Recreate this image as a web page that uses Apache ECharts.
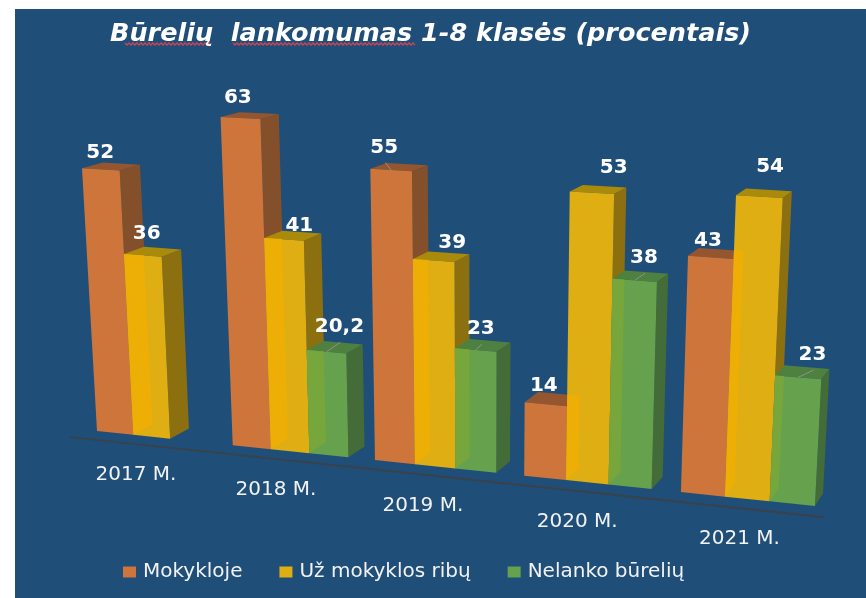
<!DOCTYPE html>
<html>
<head>
<meta charset="utf-8">
<style>
html,body{margin:0;padding:0;background:#fff;}
#container{width:866px;height:598px;}
</style>
</head>
<body>
<div id="container"></div>
<script src="https://cdn.jsdelivr.net/npm/echarts@6/dist/echarts.min.js"></script>
<script>
var categories = ['2017 M.', '2018 M.', '2019 M.', '2020 M.', '2021 M.'];
var mokykloje = [52, 63, 55, 14, 43];
var uzMokyklos = [36, 41, 39, 53, 54];
var nelanko = [null, 20.2, 23, 38, 23];

var seriesNames = ['Mokykloje', 'Už mokyklos ribų', 'Nelanko būrelių'];
var seriesValues = [mokykloje, uzMokyklos, nelanko];

// face colours per series
var faces = [
  {front: '#CE753C', side: '#84502B', top: '#95562F', strip: null},
  {front: '#DEAE12', side: '#8C7010', top: '#A98A0B', strip: '#EDAE05'},
  {front: '#66A14D', side: '#436C39', top: '#4E8040', strip: '#76A63C'}
];
// hand placed data labels, px from the middle of the bar top: [dx, dy, leader line]
var labelShift = [
  [[-11, -13.5], [-12, -17], [-15, -19, 1], [-8.5, -13], [-8, -12]],
  [[-6, -17], [6.5, -9], [11, -13.5], [15.5, -21.5], [6, -25.5]],
  [null, [4.5, -19.5, 1], [-2, -15.5, 1], [3.5, -17.5, 1], [10, -16.5, 1]]
];

var Y_MAX = 70;
var BAR_BAND = 0.2723;   // bar width as part of a category band
var BAND_START = -0.0915;

// the picture is a tilted 3D view, so plot pixels go through a projection
var view = {a: 130.4, b: 97, c: -0.02288, d: -0.000722, e: -0.3477, f: 4, g: 431, h: -5.175, k: 0.0178, m: 21.9, n: -2.5};

function project(rect, px, py, z) {
  var t = (px - rect.x) / rect.width * categories.length + BAND_START;
  var v = (rect.y + rect.height - py) / rect.height * Y_MAX;
  var w = 1 + view.c * t + view.d * v + view.k * z;
  return [
    (view.a * t + view.b + view.e * v + view.m * z) / w,
    (view.f * t + view.g + view.h * v + view.n * z) / w
  ];
}

function poly(points, color) {
  return {type: 'polygon', shape: {points: points}, style: {fill: color}};
}

function renderBar(s) {
  return function (params, api) {
    var i = api.value(0);
    var val = api.value(1);
    if (isNaN(val)) return;
    var rect = params.coordSys;
    var band = api.size([1, 0])[0];
    var barW = band * BAR_BAND;
    var xL = api.coord([i, 0])[0] + (s - 1.5) * barW;
    var xR = xL + barW;
    var y0 = api.coord([i, 0])[1];
    var yV = api.coord([i, val])[1];
    var P = function (x, y, z) { return project(rect, x, y, z); };
    var f = faces[s];
    var children = [
      poly([P(xR, y0, 0), P(xR, y0, 1), P(xR, yV, 1), P(xR, yV, 0)], f.side),
      poly([P(xL, yV, 0), P(xR, yV, 0), P(xR, yV, 1), P(xL, yV, 1)], f.top),
      poly([P(xL, y0, 0), P(xR, y0, 0), P(xR, yV, 0), P(xL, yV, 0)], f.front)
    ];

    // the neighbour on the left shows through the front face
    var prev = s > 0 ? seriesValues[s - 1][i] : null;
    if (prev != null) {
      var yP = api.coord([i, prev])[1];
      var pxPerBar = P(xR, yV, 0)[0] - P(xL, yV, 0)[0];
      if (prev > val) {
        var dx = P(xL, yV, 1)[0] - P(xL, yV, 0)[0];
        children.push(poly([P(xL, y0, 0), P(xL, y0, 1), P(xL + barW * dx / pxPerBar, yV, 0), P(xL, yV, 0)], f.strip));
      } else {
        var dxp = P(xL, yP, 1)[0] - P(xL, yP, 0)[0];
        children.push(poly([P(xL, y0, 0), P(xL, y0, 1), P(xL, yP, 1), P(xL - barW * dxp / pxPerBar, yP, 1), P(xL, yP, 0)], f.strip));
      }
    }

    // value label
    var mid = (xL + xR) / 2;
    var topMid = P(mid, yV, 0.5);
    var frontMid = P(mid, yV, 0);
    var shift = labelShift[s][i];
    var lx = topMid[0] + shift[0];
    var ly = topMid[1] + shift[1];
    if (shift[2]) {
      children.push({
        type: 'line', z2: 50,
        shape: {x1: frontMid[0], y1: frontMid[1], x2: lx + 1, y2: ly + 14.5},
        style: {stroke: '#8f8f8f', lineWidth: 1}
      });
    }
    children.push({
      type: 'text', z2: 100, x: lx, y: ly - 0.5,
      style: {
        text: String(val).replace('.', ','),
        fill: '#fff', align: 'center', verticalAlign: 'middle',
        font: 'bold 20px "DejaVu Sans"'
      }
    });
    return {type: 'group', children: children};
  };
}

function renderCategory(params, api) {
  var i = api.value(0);
  var rect = params.coordSys;
  var c = api.coord([i, 0]);
  var children = [];
  var p = project(rect, c[0], c[1], -0.8);
  children.push({
    type: 'text', x: p[0], y: p[1] + 30,
    style: {text: categories[i], fill: '#F2F2F2', align: 'center', verticalAlign: 'middle', font: '20px "DejaVu Sans"'}
  });
  if (i === 0) {
    // floor line runs under all the categories
    var a = project(rect, rect.x, c[1], -0.72);
    var b = project(rect, rect.x + rect.width, c[1], -0.72);
    children.push({
      type: 'line',
      shape: {x1: a[0], y1: a[1], x2: b[0], y2: b[1]},
      style: {stroke: '#3A4248', lineWidth: 2}
    });
  }
  return {type: 'group', children: children};
}

// red spell check wave under the title
function squiggle(x1, x2, y) {
  var pts = [];
  var up = 0;
  for (var x = x1; x <= x2; x += 2) {
    pts.push([x, y + up]);
    up = up ? 0 : 2;
  }
  return {type: 'polyline', z: 1, shape: {points: pts}, style: {stroke: '#D04452', lineWidth: 1.4, fill: null}};
}

var series = seriesNames.map(function (name, s) {
  return {
    name: name,
    type: 'custom',
    renderItem: renderBar(s),
    itemStyle: {color: faces[s].front},
    encode: {x: 0, y: 1},
    data: seriesValues[s].map(function (v, i) { return [i, v == null ? '-' : v]; })
  };
});
series.push({
  type: 'custom',
  name: 'axis',
  renderItem: renderCategory,
  encode: {x: 0, y: 1},
  data: categories.map(function (c, i) { return [i, 0]; })
});

var myChart = echarts.init(document.getElementById('container'), null, {renderer: 'canvas'});
myChart.setOption({
  animation: false,
  backgroundColor: '#fff',
  title: {
    text: 'Būrelių  lankomumas 1-8 klasės (procentais)',
    left: 105, top: 16,
    textStyle: {color: '#fff', fontFamily: 'DejaVu Sans', fontStyle: 'italic', fontWeight: 'bold', fontSize: 25.5}
  },
  legend: {
    data: seriesNames,
    left: 118, top: 557,
    icon: 'rect',
    itemWidth: 13, itemHeight: 11, itemGap: 37,
    textStyle: {color: '#F2F2F2', fontFamily: 'DejaVu Sans', fontSize: 20, padding: [0, 0, 0, 2]}
  },
  grid: {left: 60, right: 60, top: 60, bottom: 100},
  xAxis: {type: 'category', data: categories, show: false},
  yAxis: {type: 'value', min: 0, max: Y_MAX, show: false},
  graphic: [
    {type: 'rect', z: -1, shape: {x: 15, y: 9, width: 851, height: 589}, style: {fill: '#1F4E79'}},
    squiggle(125, 212, 43),
    squiggle(233, 415, 43)
  ],
  series: series
});
</script>
</body>
</html>
